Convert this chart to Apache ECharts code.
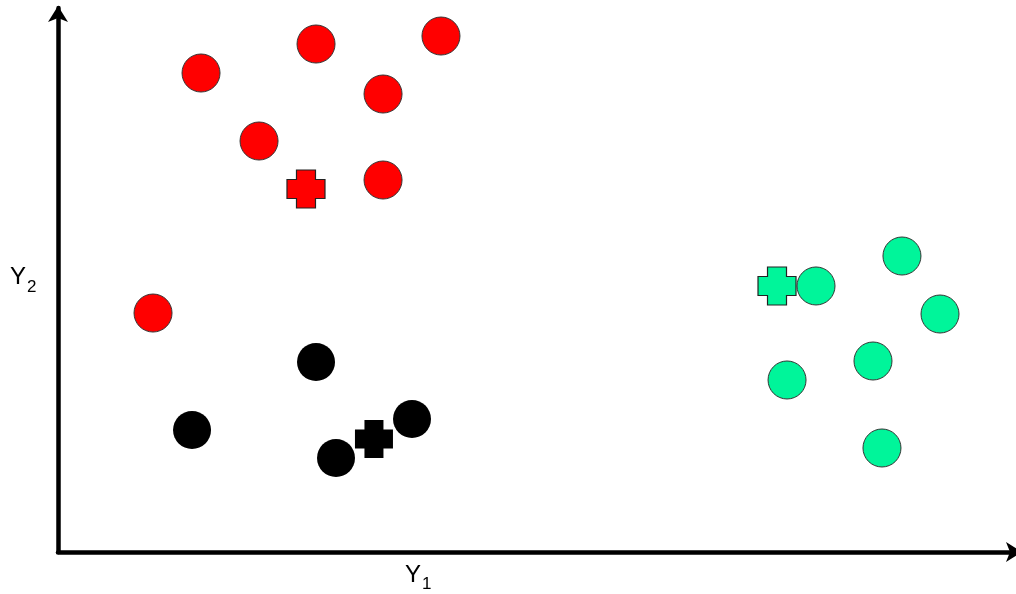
<!DOCTYPE html>
<html><head><meta charset="utf-8">
<script src="https://cdn.jsdelivr.net/npm/echarts@6/dist/echarts.min.js"></script>
<style>html,body{margin:0;padding:0;background:#fff}#c{width:1016px;height:594px}</style>
</head><body><div id="c"></div>
<script>
const redPoints = [[14.96,88.05],[26.99,93.38],[40.06,94.85],[34.0,84.19],[21.03,75.55],[34.0,68.38],[9.94,43.93]];
const redCenter = [[25.94,66.73]];
const blackPoints = [[26.99,34.93],[14.02,22.43],[37.03,24.45],[29.08,17.28]];
const blackCenter = [[33.05,20.77]];
const greenPoints = [[88.28,54.41],[79.29,48.90],[92.26,43.75],[85.25,35.11],[76.26,31.62],[86.19,19.12]];
const greenCenter = [[75.21,48.90]];
const axisNames = ['Y', '1', 'Y', '2'];

const plus = 'path://M10,0H30V10H40V30H30V40H10V30H0V10H10Z';
function circ(data, color, border) {
  return {type:'scatter', data, symbol:'circle', symbolSize:38,
    itemStyle:{color, borderColor: border ? '#333' : color, borderWidth: border ? 1 : 0, opacity:1}};
}
function cross(data, color, border) {
  return {type:'scatter', data, symbol:plus, symbolSize:38, z:3,
    itemStyle:{color, borderColor: border ? '#222' : color, borderWidth: border ? 1.2 : 0, opacity:1}};
}
const chart = echarts.init(document.getElementById('c'));
function axis(endOffset) {
  return {type:'value', min:0, max:100,
    axisLine:{show:true, lineStyle:{color:'#000', width:4.5}, symbol:['none','arrow'], symbolSize:[15,16], symbolOffset:[0,endOffset]},
    axisTick:{show:false}, axisLabel:{show:false}, splitLine:{show:false}};
}
chart.setOption({
  animation:false,
  grid:{left:58, right:2, top:8, bottom:42},
  xAxis: axis(8),
  yAxis: axis(2),
  series:[
    circ(redPoints,'#ff0000',true), cross(redCenter,'#ff0000',true),
    circ(blackPoints,'#000000',false), cross(blackCenter,'#000000',false),
    circ(greenPoints,'#00f59a',true), cross(greenCenter,'#00f59a',true)
  ],
  graphic:[
    {type:'text', left:405, top:563, style:{text:axisNames[0], font:'24px "Liberation Sans", Arial', fill:'#000'}},
    {type:'text', left:422, top:576, style:{text:axisNames[1], font:'17px "Liberation Sans", Arial', fill:'#000'}},
    {type:'text', left:10, top:265, style:{text:axisNames[2], font:'24px "Liberation Sans", Arial', fill:'#000'}},
    {type:'text', left:27, top:279, style:{text:axisNames[3], font:'17px "Liberation Sans", Arial', fill:'#000'}}
  ]
});
</script></body></html>
